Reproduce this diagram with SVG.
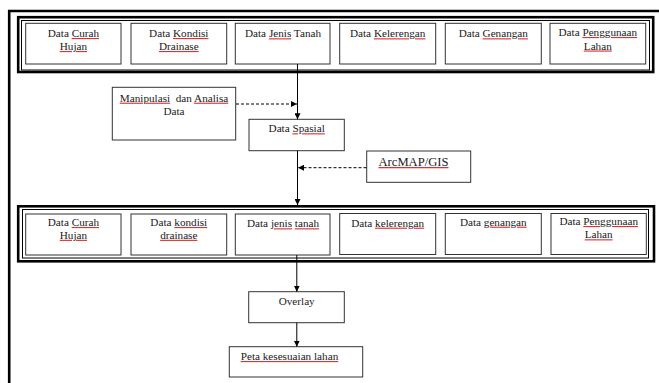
<svg xmlns="http://www.w3.org/2000/svg" width="659" height="383" viewBox="0 0 659 383">
<style>
text{font-family:"Liberation Serif","Times New Roman",serif;font-size:11.2px;fill:#1a1a1a;text-anchor:middle}
.big{font-size:12.6px}
.left{text-anchor:start}
.box{fill:#fff;stroke:#333;stroke-width:1}
.thick{fill:none;stroke:#000;stroke-width:2.6}
.thin{fill:none;stroke:#000;stroke-width:1}
.sp{text-decoration:underline;fill:#e03030}
.sp tspan{fill:#1a1a1a}
.ln{fill:none;stroke:#000;stroke-width:1}
.dash{stroke-dasharray:3 2}
</style>
<defs>
<marker id="ah" viewBox="0 0 6 6" refX="6" refY="3" markerWidth="6" markerHeight="6" markerUnits="userSpaceOnUse" orient="auto">
<path d="M0,0 L6,3 L0,6 z" fill="#000"/>
</marker>
</defs>
<rect width="659" height="383" fill="#fff"/>
<path id="frame" d="M9.2,383 V11 H659" fill="none" stroke="#000" stroke-width="2.6"/>

<g id="group-input">
<rect class="thick" x="18.2" y="17.2" width="635" height="54.8"/>
<rect class="thin" x="21.5" y="20.5" width="628" height="49.5"/>
</g>
<g id="in-curah"><rect class="box" x="25.7" y="23.3" width="95.3" height="40.7"/><text x="73.4" y="37"><tspan>Data </tspan><tspan class="sp"><tspan>Curah</tspan></tspan></text><text x="73.4" y="50"><tspan class="sp"><tspan>Hujan</tspan></tspan></text></g>
<g id="in-drainase"><rect class="box" x="131" y="23.3" width="95.7" height="40.7"/><text x="178.8" y="37"><tspan>Data </tspan><tspan class="sp"><tspan>Kondisi</tspan></tspan></text><text x="178.8" y="50"><tspan class="sp"><tspan>Drainase</tspan></tspan></text></g>
<g id="in-tanah"><rect class="box" x="235.3" y="23.3" width="94.7" height="40.7"/><text x="283" y="37.3"><tspan>Data </tspan><tspan class="sp"><tspan>Jenis</tspan></tspan><tspan> Tanah</tspan></text></g>
<g id="in-lereng"><rect class="box" x="339.7" y="23.3" width="96" height="40.7"/><text x="387.7" y="37.3"><tspan>Data </tspan><tspan class="sp"><tspan>Kelerengan</tspan></tspan></text></g>
<g id="in-genangan"><rect class="box" x="445.3" y="23.3" width="96" height="40.7"/><text x="493.3" y="37.3"><tspan>Data </tspan><tspan class="sp"><tspan>Genangan</tspan></tspan></text></g>
<g id="in-lahan"><rect class="box" x="550" y="23.3" width="95.7" height="40.7"/><text x="597.8" y="36"><tspan>Data </tspan><tspan class="sp"><tspan>Penggunaan</tspan></tspan></text><text x="597.8" y="49.5"><tspan class="sp"><tspan>Lahan</tspan></tspan></text></g>

<g id="manipulasi"><rect class="box" x="112.3" y="87.3" width="123.4" height="52.7"/><text x="174" y="101.7"><tspan class="sp"><tspan>Manipulasi</tspan></tspan><tspan xml:space="preserve">  dan </tspan><tspan class="sp"><tspan>Analisa</tspan></tspan></text><text x="174" y="115">Data</text></g>
<g id="spasial"><rect class="box" x="249" y="119.3" width="95.3" height="31.4"/><text x="296.7" y="132.3"><tspan>Data </tspan><tspan class="sp"><tspan>Spasial</tspan></tspan></text></g>
<g id="arcmap"><rect class="box" x="366.7" y="151" width="104" height="31.3"/><text class="big" x="413.5" y="166"><tspan class="sp"><tspan>ArcMAP/GIS</tspan></tspan></text></g>

<g id="group-spasial">
<rect class="thick" x="18.2" y="206.3" width="635.8" height="55"/>
<rect class="thin" x="22.5" y="209.5" width="626" height="48.5"/>
</g>
<g id="sp-curah"><rect class="box" x="25.7" y="214" width="95.3" height="41"/><text x="73.4" y="226"><tspan>Data </tspan><tspan class="sp"><tspan>Curah</tspan></tspan></text><text x="73.4" y="238.8"><tspan class="sp"><tspan>Hujan</tspan></tspan></text></g>
<g id="sp-drainase"><rect class="box" x="131" y="214" width="95.7" height="41"/><text x="178.8" y="226"><tspan>Data </tspan><tspan class="sp"><tspan>kondisi</tspan></tspan></text><text x="178.8" y="238.8"><tspan class="sp"><tspan>drainase</tspan></tspan></text></g>
<g id="sp-tanah"><rect class="box" x="235.3" y="214" width="94.7" height="41"/><text x="283" y="227.3"><tspan>Data </tspan><tspan class="sp"><tspan>jenis</tspan></tspan><tspan> </tspan><tspan class="sp"><tspan>tanah</tspan></tspan></text></g>
<g id="sp-lereng"><rect class="box" x="339.7" y="213.5" width="96" height="41"/><text x="387.7" y="226.7"><tspan>Data </tspan><tspan class="sp"><tspan>kelerengan</tspan></tspan></text></g>
<g id="sp-genangan"><rect class="box" x="445.3" y="213.5" width="96" height="41"/><text x="493.3" y="225.7"><tspan>Data </tspan><tspan class="sp"><tspan>genangan</tspan></tspan></text></g>
<g id="sp-lahan"><rect class="box" x="551" y="213.5" width="95.3" height="41"/><text x="598.7" y="225"><tspan>Data </tspan><tspan class="sp"><tspan>Penggunaan</tspan></tspan></text><text x="598.7" y="238.3"><tspan class="sp"><tspan>Lahan</tspan></tspan></text></g>

<g id="overlay"><rect class="box" x="248.7" y="291.7" width="95.6" height="31"/><text x="296.7" y="305">Overlay</text></g>
<g id="peta"><rect class="box" x="229.3" y="346.7" width="133.4" height="30.3"/><text class="left" x="240.7" y="360"><tspan class="sp"><tspan>Peta kesesuaian lahan</tspan></tspan></text></g>

<g id="connectors">
<line class="ln" x1="297.5" y1="64" x2="297.5" y2="119.3" marker-end="url(#ah)"/>
<line class="ln dash" x1="236" y1="104" x2="297" y2="104" marker-end="url(#ah)"/>
<line class="ln" x1="297.5" y1="150.7" x2="297.5" y2="205" marker-end="url(#ah)"/>
<line class="ln dash" x1="366.5" y1="167.7" x2="298" y2="167.7" marker-end="url(#ah)"/>
<line class="ln" x1="296.8" y1="255" x2="296.8" y2="291.7" marker-end="url(#ah)"/>
<line class="ln" x1="296.8" y1="322.7" x2="296.8" y2="346.7" marker-end="url(#ah)"/>
</g>
</svg>
